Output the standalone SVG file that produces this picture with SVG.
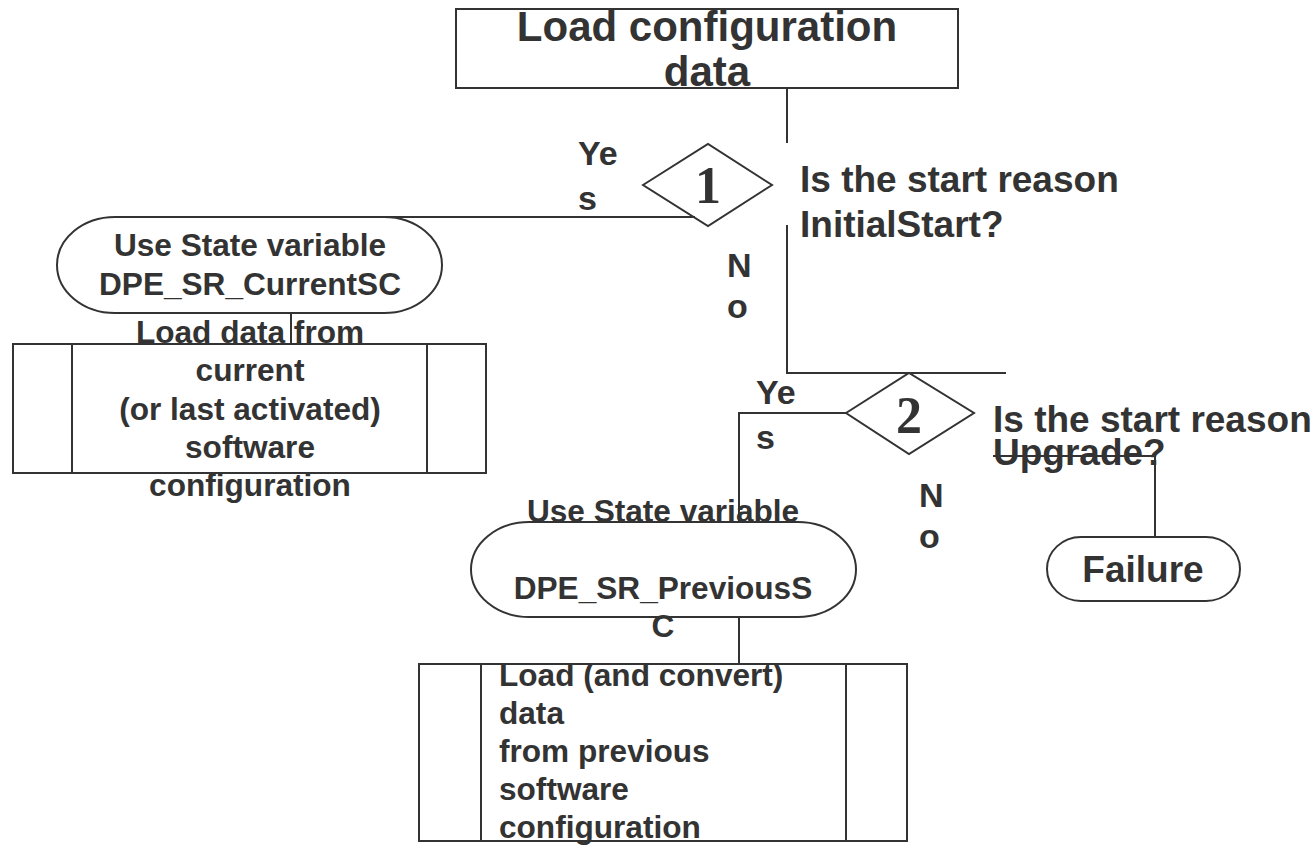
<svg xmlns="http://www.w3.org/2000/svg" width="1316" height="845" viewBox="0 0 1316 845">
<style>
.s{fill:#fff;stroke:#333;stroke-width:2}
.c{fill:none;stroke:#333;stroke-width:2}
.t{font-family:"Liberation Sans",Arial,sans-serif;font-weight:bold;fill:#333}
.m{text-anchor:middle}
.d{font-family:"Liberation Serif","Times New Roman",serif;font-weight:bold;fill:#333;text-anchor:middle;font-size:52px}
</style>
<rect width="1316" height="845" fill="#fff"/>
<g id="load-config">
<rect class="s" x="456" y="9" width="502" height="79"/>
<text class="t m" x="707" y="41" font-size="42">Load configuration</text>
<text class="t m" x="707" y="86" font-size="42">data</text>
</g>
<g id="decision1">
<polygon class="s" points="643,185 708,144 772,185 708,226"/>
<text class="d" x="708" y="203">1</text>
<text class="t" x="800" y="192" font-size="37">Is the start reason</text>
<text class="t" x="800" y="237" font-size="37">InitialStart?</text>
</g>
<g id="use-current">
<rect class="s" x="57" y="217" width="385" height="96" rx="58" ry="48"/>
<text class="t m" x="250" y="256" font-size="31.6">Use State variable</text>
<text class="t m" x="250" y="295" font-size="31.6">DPE_SR_CurrentSC</text>
</g>
<g id="load-current">
<rect class="s" x="13" y="344" width="473" height="129"/>
<line class="c" x1="72" y1="344" x2="72" y2="473"/>
<line class="c" x1="427" y1="344" x2="427" y2="473"/>
<text class="t m" x="250" y="343" font-size="31.6">Load data from</text>
<text class="t m" x="250" y="381" font-size="31.6">current</text>
<text class="t m" x="250" y="420" font-size="31.6">(or last activated)</text>
<text class="t m" x="250" y="458" font-size="31.6">software</text>
<text class="t m" x="250" y="496" font-size="31.6">configuration</text>
</g>
<g id="decision2">
<polygon class="s" points="846,413 909,373 974,413 909,454"/>
<text class="d" x="909" y="433">2</text>
<text class="t" x="993" y="432" font-size="37">Is the start reason</text>
<text class="t" x="993" y="465" font-size="37">Upgrade?</text>
</g>
<g id="use-previous">
<rect class="s" x="471" y="522" width="385" height="95" rx="58" ry="47.5"/>
<text class="t m" x="663" y="522" font-size="31.6">Use State variable</text>
<text class="t m" x="663" y="599" font-size="31.6">DPE_SR_PreviousS</text>
<text class="t m" x="663" y="637" font-size="31.6">C</text>
</g>
<g id="load-previous">
<rect class="s" x="419" y="664" width="488" height="177"/>
<line class="c" x1="481" y1="664" x2="481" y2="841"/>
<line class="c" x1="846" y1="664" x2="846" y2="841"/>
<text class="t" x="499" y="686" font-size="31.6">Load (and convert)</text>
<text class="t" x="499" y="724" font-size="31.6">data</text>
<text class="t" x="499" y="762" font-size="31.6">from previous</text>
<text class="t" x="499" y="800" font-size="31.6">software</text>
<text class="t" x="499" y="838" font-size="31.6">configuration</text>
</g>
<g id="failure">
<rect class="s" x="1047" y="537" width="193" height="64" rx="34" ry="32"/>
<text class="t m" x="1143" y="582" font-size="37">Failure</text>
</g>
<g id="labels">
<text class="t" x="578" y="165" font-size="34">Ye</text>
<text class="t" x="578" y="210" font-size="34">s</text>
<text class="t" x="727" y="277" font-size="34">N</text>
<text class="t" x="727" y="318" font-size="34">o</text>
<text class="t" x="756" y="404" font-size="34">Ye</text>
<text class="t" x="756" y="449" font-size="34">s</text>
<text class="t" x="919" y="507" font-size="34">N</text>
<text class="t" x="919" y="548" font-size="34">o</text>
</g>
<g id="connectors">
<path class="c" d="M787 88 V143"/>
<path class="c" d="M787 225 V373 H1006"/>
<path class="c" d="M695 217 H250"/>
<path class="c" d="M291 313 V344"/>
<path class="c" d="M846 413 H739 V522"/>
<path class="c" d="M739 617 V664"/>
<path class="c" d="M993 456 H1155 V537"/>
</g>
</svg>
